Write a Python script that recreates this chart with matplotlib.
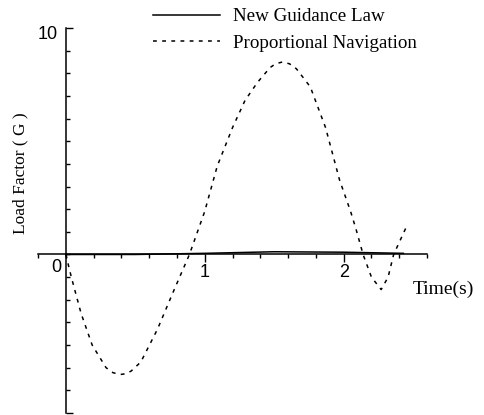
import numpy as np
import matplotlib
matplotlib.use("Agg")
import matplotlib.pyplot as plt
from matplotlib.ticker import FixedLocator, FixedFormatter
from matplotlib.transforms import ScaledTranslation

# time samples (s) and load factor (G) for proportional navigation
pn_time = [0.0, 0.04, 0.11, 0.19, 0.29, 0.34, 0.39, 0.43, 0.47, 0.54, 0.66,
           0.77, 0.89, 1.0, 1.09, 1.2, 1.29, 1.38, 1.47, 1.51, 1.56, 1.61,
           1.66, 1.76, 1.87, 1.97, 2.05, 2.09, 2.14, 2.2, 2.27, 2.32, 2.36,
           2.45]
pn_load = [0.0, -1.0, -2.6, -4.0, -5.0, -5.22, -5.3, -5.27, -5.15, -4.75,
           -3.3, -1.7, 0.0, 1.9, 3.9, 5.6, 6.8, 7.6, 8.25, 8.42, 8.5, 8.42,
           8.2, 7.4, 5.6, 3.3, 1.9, 1.1, 0.0, -1.0, -1.55, -1.0, 0.0, 1.2]

# new guidance law stays close to zero
ngl_time = [0.0, 0.5, 1.0, 1.5, 2.0, 2.43]
ngl_load = [0.0, 0.0, 0.05, 0.12, 0.1, 0.05]

x_major = [1, 2]
x_labels = ["1", "2"]
y_major = [-7, 10]
y_labels = ["", "10"]

serif = ["Liberation Serif", "DejaVu Serif"]
sans = ["Liberation Sans", "DejaVu Sans"]

fig = plt.figure(figsize=(4.84, 4.15), dpi=100)
ax = fig.add_axes([38 / 484, 2 / 415, 389 / 484, 385 / 415])

ax.plot(ngl_time, ngl_load, color="k", lw=1.1, label="New Guidance Law")
ax.plot(pn_time, pn_load, color="k", lw=1.1, dashes=(2.5, 3.5),
        label="Proportional Navigation")

ax.set_xlim(-0.2, 2.6)
ax.set_ylim(-7, 10)

for s in ["top", "right"]:
    ax.spines[s].set_visible(False)
ax.spines["left"].set_position(("data", 0))
ax.spines["bottom"].set_position(("data", 0))
ax.spines["left"].set_linewidth(1.1)
ax.spines["bottom"].set_linewidth(1.1)

ax.xaxis.set_major_locator(FixedLocator(x_major))
ax.xaxis.set_major_formatter(FixedFormatter(x_labels))
ax.xaxis.set_minor_locator(FixedLocator(np.arange(-0.2, 2.61, 0.2)))
ax.yaxis.set_major_locator(FixedLocator(y_major))
ax.yaxis.set_major_formatter(FixedFormatter(y_labels))
ax.yaxis.set_minor_locator(FixedLocator(np.arange(-7, 11, 1)))

ax.tick_params(axis="x", which="major", direction="out", length=6, width=1.0,
               pad=1, labelsize=13)
ax.tick_params(axis="x", which="minor", direction="out", length=3, width=1.0)
ax.tick_params(axis="y", which="major", direction="in", length=5, width=1.0,
               pad=6, labelsize=13)
ax.tick_params(axis="y", which="minor", direction="in", length=3, width=1.0)
for lab in ax.get_xticklabels() + ax.get_yticklabels():
    lab.set_family(sans)
# "10" sits a little below its tick
for lab in ax.get_yticklabels():
    lab.set_transform(lab.get_transform()
                      + ScaledTranslation(0, -3 / 72, fig.dpi_scale_trans))

ax.annotate("0", xy=(0, 0), xytext=(-3, -3), textcoords="offset points",
            ha="right", va="top", fontsize=13, family=sans)

ax.set_ylabel("Load Factor ( G )", fontsize=12.5, family=serif)
ax.yaxis.set_label_coords(-0.046, 0.623)
ax.yaxis.label.set_va("center")

ax.set_xlabel("Time(s)", fontsize=14, family=serif)
ax.xaxis.set_label_coords(1.042, 0.32)
ax.xaxis.label.set_va("center")

fig.legend(loc="upper left", bbox_to_anchor=(153 / 484, 1 - 8 / 415),
           frameon=False, borderpad=0, borderaxespad=0, handlelength=3.5,
           handletextpad=0.7, labelspacing=0.5,
           prop={"family": serif, "size": 13.7})

fig.savefig("out.png", dpi=100)
